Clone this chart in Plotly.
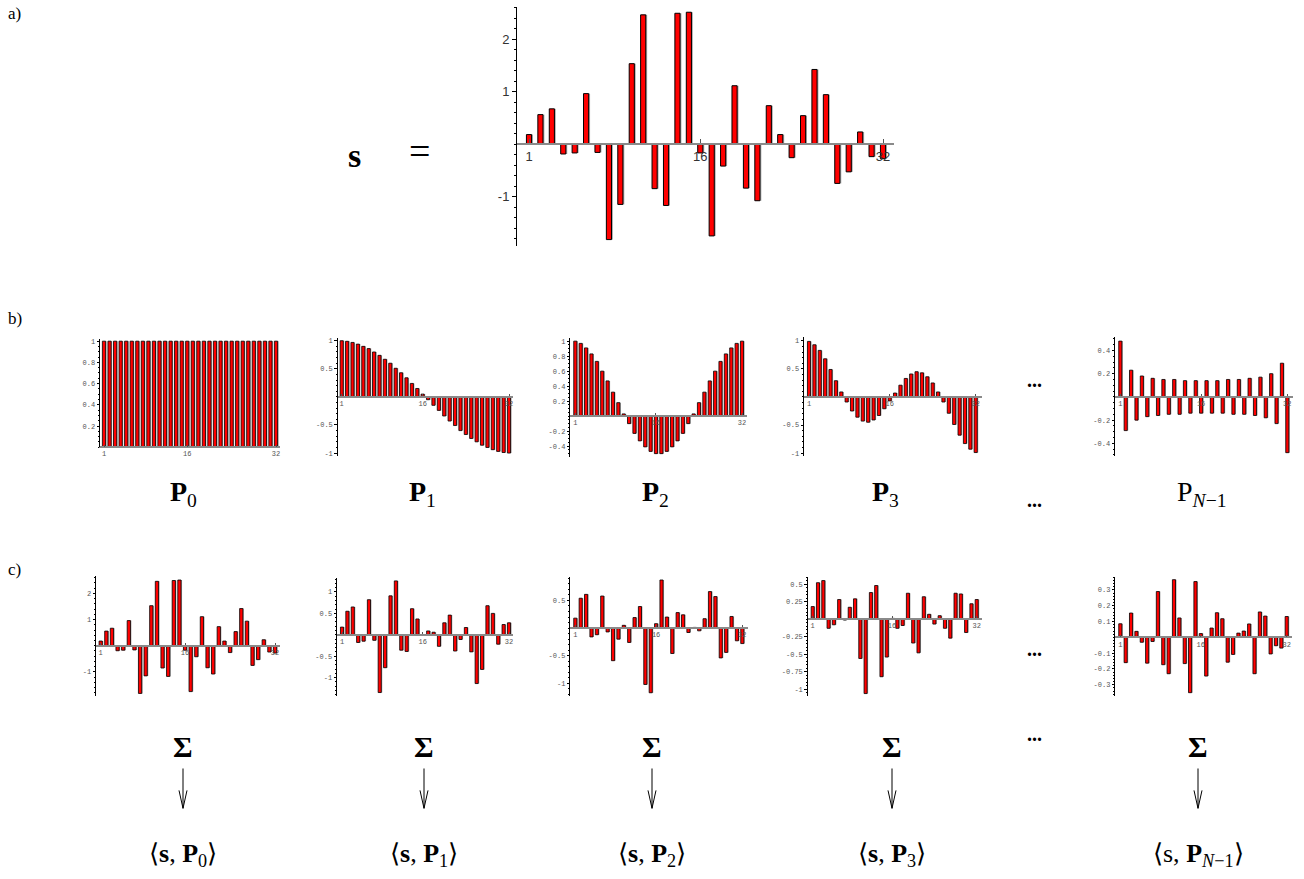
import plotly.graph_objects as go

W, H = 1304, 879

# ---------------- data ----------------
idx = [1, 2, 3, 4, 5, 6, 7, 8, 9, 10, 11, 12, 13, 14, 15, 16,
       17, 18, 19, 20, 21, 22, 23, 24, 25, 26, 27, 28, 29, 30, 31, 32]

s_vals = [0.18, 0.56, 0.67, -0.19, -0.17, 0.96, -0.16, -1.82, -1.15, 1.53, 2.46, -0.85,
          -1.17, 2.49, 2.51, -0.17, -1.75, -0.42, 1.11, -0.84, -1.08, 0.73, 0.18, -0.26,
          0.54, 1.42, 0.94, -0.75, -0.53, 0.23, -0.24, -0.28]

p0_vals = [1.0, 1.0, 1.0, 1.0, 1.0, 1.0, 1.0, 1.0, 1.0, 1.0, 1.0, 1.0, 1.0, 1.0, 1.0, 1.0,
           1.0, 1.0, 1.0, 1.0, 1.0, 1.0, 1.0, 1.0, 1.0, 1.0, 1.0, 1.0, 1.0, 1.0, 1.0, 1.0]
p1_vals = [1.00, 0.99, 0.97, 0.94, 0.90, 0.86, 0.80, 0.74, 0.67, 0.60, 0.51, 0.43, 0.34, 0.24,
           0.15, 0.05, -0.05, -0.15, -0.24, -0.34, -0.43, -0.51, -0.60, -0.67, -0.74, -0.80,
           -0.86, -0.90, -0.94, -0.97, -0.99, -1.00]
p2_vals = [1.00, 0.97, 0.91, 0.83, 0.73, 0.60, 0.47, 0.32, 0.18, 0.03, -0.10, -0.23, -0.33,
           -0.41, -0.47, -0.50, -0.50, -0.47, -0.41, -0.33, -0.23, -0.10, 0.03, 0.18, 0.32,
           0.47, 0.60, 0.73, 0.83, 0.91, 0.97, 1.00]
p3_vals = [0.99, 0.93, 0.83, 0.68, 0.49, 0.29, 0.09, -0.09, -0.25, -0.36, -0.43, -0.45, -0.41,
           -0.33, -0.21, -0.07, 0.07, 0.21, 0.33, 0.41, 0.45, 0.43, 0.36, 0.25, 0.09, -0.09,
           -0.29, -0.49, -0.68, -0.83, -0.93, -0.99]
pn_vals = [0.48, -0.29, 0.23, -0.20, 0.18, -0.17, 0.16, -0.16, 0.15, -0.15, 0.15, -0.15, 0.14,
           -0.14, 0.14, -0.14, 0.14, -0.14, 0.14, -0.14, 0.15, -0.15, 0.15, -0.15, 0.16, -0.16,
           0.17, -0.18, 0.20, -0.23, 0.29, -0.48]

c0_vals = [0.18, 0.56, 0.67, -0.19, -0.17, 0.96, -0.16, -1.82, -1.15, 1.53, 2.46, -0.85,
           -1.17, 2.49, 2.51, -0.17, -1.75, -0.42, 1.11, -0.84, -1.08, 0.73, 0.18, -0.26,
           0.54, 1.42, 0.94, -0.75, -0.53, 0.23, -0.24, -0.28]
c1_vals = [0.18, 0.55, 0.65, -0.18, -0.15, 0.82, -0.13, -1.35, -0.77, 0.91, 1.26, -0.36,
           -0.39, 0.61, 0.37, -0.01, 0.09, 0.06, -0.27, 0.28, 0.46, -0.38, -0.11, 0.17,
           -0.40, -1.14, -0.81, 0.68, 0.50, -0.22, 0.24, 0.28]
c2_vals = [0.18, 0.54, 0.61, -0.16, -0.12, 0.58, -0.07, -0.59, -0.20, 0.05, -0.26, 0.19,
           0.39, -1.02, -1.17, 0.08, 0.87, 0.20, -0.46, 0.28, 0.24, -0.08, 0.01, -0.05,
           0.17, 0.66, 0.57, -0.54, -0.44, 0.21, -0.23, -0.28]
c3_vals = [0.18, 0.52, 0.55, -0.13, -0.08, 0.28, -0.01, 0.17, 0.29, -0.56, -1.06, 0.38,
           0.48, -0.82, -0.54, 0.01, -0.13, -0.09, 0.37, -0.34, -0.48, 0.32, 0.07, -0.07,
           0.05, -0.13, -0.27, 0.37, 0.36, -0.19, 0.22, 0.28]
c4_vals = [0.086, -0.16, 0.154, 0.038, -0.031, -0.163, -0.026, 0.29, -0.173, -0.23, 0.365,
           0.123, -0.166, -0.35, 0.353, 0.024, -0.245, 0.059, 0.156, 0.118, -0.157, -0.108,
           0.027, 0.04, 0.085, -0.23, 0.161, 0.135, -0.105, -0.053, -0.068, 0.132]

x_tickvals = [1, 16, 32]
x_ticktext = ["1", "16", "32"]

a_yt = [-1, 1, 2]
a_ytt = ["-1", "1", "2"]
p0_yt = [0.2, 0.4, 0.6, 0.8, 1]
p0_ytt = ["0.2", "0.4", "0.6", "0.8", "1"]
p1_yt = [-1, -0.5, 0.5, 1]
p1_ytt = ["-1", "-0.5", "0.5", "1"]
p2_yt = [-0.4, -0.2, 0.2, 0.4, 0.6, 0.8, 1]
p2_ytt = ["-0.4", "-0.2", "0.2", "0.4", "0.6", "0.8", "1"]
pn_yt = [-0.4, -0.2, 0.2, 0.4]
pn_ytt = ["-0.4", "-0.2", "0.2", "0.4"]
c0_yt = [-1, 1, 2]
c0_ytt = ["-1", "1", "2"]
c1_yt = [-1, -0.5, 0.5, 1]
c1_ytt = ["-1", "-0.5", "0.5", "1"]
c2_yt = [-1, -0.5, 0.5]
c2_ytt = ["-1", "-0.5", "0.5"]
c3_yt = [-1, -0.75, -0.5, -0.25, 0.25, 0.5]
c3_ytt = ["-1", "-0.75", "-0.5", "-0.25", "0.25", "0.5"]
c4_yt = [-0.3, -0.2, -0.1, 0.1, 0.2, 0.3]
c4_ytt = ["-0.3", "-0.2", "-0.1", "0.1", "0.2", "0.3"]

# ---------------- layout of the panels (pixel frames) ----------------
charts = [
    dict(v=s_vals, l=516, r=894, b1=529, b32=883, t=5, b=245, ymin=-1.94, ymax=2.61,
         yt=a_yt, ytt=a_ytt, minor=0.2, big=True),
    dict(v=p0_vals, l=99, r=280, b1=104, b32=276, t=339, b=447.3, ymin=0, ymax=1.016,
         yt=p0_yt, ytt=p0_ytt, minor=0.05),
    dict(v=p1_vals, l=336.7, r=513, b1=341.7, b32=509, t=337.3, b=456, ymin=-1.051, ymax=1.053,
         yt=p1_yt, ytt=p1_ytt, minor=0.1),
    dict(v=p2_vals, l=569.3, r=746.7, b1=575.3, b32=742, t=337.3, b=456.7, ymin=-0.54, ymax=1.045,
         yt=p2_yt, ytt=p2_ytt, minor=0.05),
    dict(v=p3_vals, l=803, r=981.7, b1=809, b32=975.7, t=337, b=456, ymin=-1.05, ymax=1.06,
         yt=p1_yt, ytt=p1_ytt, minor=0.1),
    dict(v=pn_vals, l=1114, r=1292.7, b1=1120.3, b32=1287.3, t=336.7, b=456, ymin=-0.508, ymax=0.514,
         yt=pn_yt, ytt=pn_ytt, minor=0.05),
    dict(v=c0_vals, l=95, r=280, b1=100.7, b32=275, t=576.7, b=696.7, ymin=-1.90, ymax=2.66,
         yt=c0_yt, ytt=c0_ytt, minor=0.2),
    dict(v=c1_vals, l=336, r=513.3, b1=342, b32=509, t=578.3, b=696.7, ymin=-1.42, ymax=1.335,
         yt=c1_yt, ytt=c1_ytt, minor=0.1),
    dict(v=c2_vals, l=569.3, r=747.7, b1=575.3, b32=742.3, t=577.3, b=696.7, ymin=-1.22, ymax=0.93,
         yt=c2_yt, ytt=c2_ytt, minor=0.1),
    dict(v=c3_vals, l=806.7, r=981.7, b1=812.7, b32=976.7, t=577.3, b=696.7, ymin=-1.088, ymax=0.606,
         yt=c3_yt, ytt=c3_ytt, minor=0.05),
    dict(v=c4_vals, l=1114.3, r=1291.7, b1=1120.3, b32=1286.7, t=577.3, b=696.7, ymin=-0.368, ymax=0.384,
         yt=c4_yt, ytt=c4_ytt, minor=0.02),
]


def fx(px):
    return px / W


def fy(py):
    return 1 - py / H


fig = go.Figure()
layout = {}

for i, c in enumerate(charts):
    n = i + 1
    xa = "x" if n == 1 else f"x{n}"
    ya = "y" if n == 1 else f"y{n}"
    xkey = "xaxis" if n == 1 else f"xaxis{n}"
    ykey = "yaxis" if n == 1 else f"yaxis{n}"
    big = c.get("big", False)
    sp = (c["b32"] - c["b1"]) / 31.0
    x0 = 1 - (c["b1"] - c["l"]) / sp
    x1 = 32 + (c["r"] - c["b32"]) / sp
    bw = 0.45 if big else 0.58
    dx = (1.4 if big else 1.0) / sp
    zero_px = c["t"] + (c["ymax"] - 0) / (c["ymax"] - c["ymin"]) * (c["b"] - c["t"])

    # shadow
    fig.add_trace(go.Bar(x=idx, y=c["v"], xaxis=xa, yaxis=ya, width=bw, offset=-bw / 2 + dx,
                         marker=dict(color="#a8a8a8", line=dict(width=0)),
                         hoverinfo="skip", showlegend=False))
    fig.add_trace(go.Bar(x=idx, y=c["v"], xaxis=xa, yaxis=ya, width=bw, offset=-bw / 2,
                         marker=dict(color="#ff0000", line=dict(color="black", width=1.0 if big else 0.8)),
                         hoverinfo="skip", showlegend=False))

    tfont = dict(family="Liberation Sans, Arial, sans-serif", size=13, color="#333") if big else \
        dict(family="Liberation Mono, Courier New, monospace", size=7, color="#555")

    layout[xkey] = dict(domain=[fx(c["l"]), fx(c["r"])], range=[x0, x1], anchor="free",
                        position=fy(zero_px), showline=True, linecolor="#8a8a8a",
                        linewidth=2 if big else 1.5, showgrid=False, zeroline=False,
                        tickmode="array", tickvals=x_tickvals, ticktext=x_ticktext,
                        ticks="inside", ticklen=4 if big else 2, tickcolor="#555",
                        tickfont=tfont, fixedrange=True)
    layout[ykey] = dict(domain=[fy(c["b"]), fy(c["t"])], range=[c["ymin"], c["ymax"]], anchor="free",
                        position=fx(c["l"]), showline=True, linecolor="black", linewidth=1,
                        showgrid=False, zeroline=False, tickmode="array", tickvals=c["yt"],
                        ticktext=c["ytt"], ticks="outside", ticklen=4 if big else 2.5,
                        tickcolor="black", tickwidth=1, tickfont=tfont,
                        minor=dict(tickmode="linear", tick0=0, dtick=c["minor"], ticks="outside",
                                   ticklen=2 if big else 1.2, tickcolor="black", tickwidth=0.8),
                        fixedrange=True)

serif = "Liberation Serif, Times New Roman, serif"
ann = []


def text(x, y, t, size, **kw):
    d = dict(x=fx(x), y=fy(y), xref="paper", yref="paper", text=t, showarrow=False,
             font=dict(family=serif, size=size, color="black"), xanchor="center", yanchor="middle")
    d.update(kw)
    ann.append(d)


text(6, 12, "a)", 17, xanchor="left")
text(6, 318, "b)", 17, xanchor="left")
text(6, 570, "c)", 17, xanchor="left")
text(354, 154, "<b>s</b>", 34)
text(420, 150, "=", 38)

label_x = [183, 422, 655, 885, 1202]
label_y = 494
p_labels = ["<b>P</b><sub>0</sub>", "<b>P</b><sub>1</sub>", "<b>P</b><sub>2</sub>",
            "<b>P</b><sub>3</sub>", "P<sub><i>N</i>−1</sub>"]
for xx, t in zip(label_x, p_labels):
    text(xx, label_y, t, 28)

sig_x = [183, 424, 652, 892, 1198]
sig_y = 748
for xx in sig_x:
    text(xx, sig_y, "<b>Σ</b>", 30)

br_y = 857
br_labels = ["⟨<b>s</b>, <b>P</b><sub>0</sub>⟩", "⟨<b>s</b>, <b>P</b><sub>1</sub>⟩",
             "⟨<b>s</b>, <b>P</b><sub>2</sub>⟩", "⟨<b>s</b>, <b>P</b><sub>3</sub>⟩",
             "⟨s, <b>P</b><sub><i>N</i>−1</sub>⟩"]
for xx, t in zip(sig_x, br_labels):
    text(xx, br_y, t, 26)

for yy in [380, 500, 650, 735]:
    text(1034, yy, "<b>...</b>", 20)

shapes = []
for xx in sig_x:
    y1, y2 = 770, 810
    path = (f"M {fx(xx)},{fy(y1)} L {fx(xx)},{fy(y2)} "
            f"M {fx(xx - 4)},{fy(y2 - 18)} L {fx(xx)},{fy(y2)} L {fx(xx + 4)},{fy(y2 - 18)}")
    shapes.append(dict(type="path", xref="paper", yref="paper", path=path,
                       line=dict(color="black", width=1)))

fig.update_layout(width=W, height=H, autosize=False, margin=dict(l=0, r=0, t=0, b=0),
                  paper_bgcolor="white", plot_bgcolor="white", barmode="overlay",
                  annotations=ann, shapes=shapes, showlegend=False, **layout)

fig.write_html("out.html", config={"displayModeBar": False},
               post_script="document.body.style.margin='0';document.body.style.overflow='hidden';")
